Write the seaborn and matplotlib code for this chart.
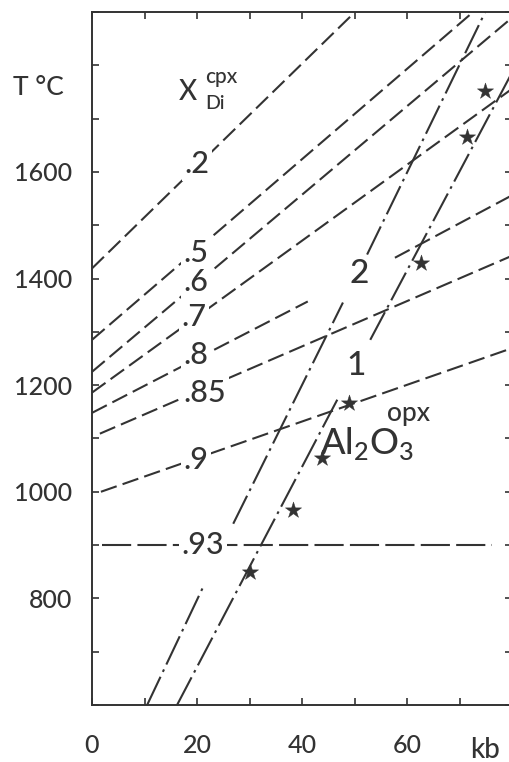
import matplotlib
matplotlib.use('Agg')
import numpy as np
import pandas as pd
import seaborn as sns
import matplotlib.pyplot as plt

# X_Di(cpx) isopleths, one segment per row (P in kb, T in degC)
cpx_names = ['.2', '.5', '.6', '.7', '.8', '.8', '.85', '.9', '.93']
cpx_P0 = [0, 0, 0, 0, 0, 57.7, 1.5, 1.7, 2.0]
cpx_T0 = [1419, 1285, 1225, 1186, 1148, 1439, 1109, 1000, 900]
cpx_P1 = [50.1, 72.6, 79.6, 79.6, 41.1, 79.6, 79.6, 79.6, 76.2]
cpx_T1 = [1900, 1900, 1886, 1753, 1357, 1554, 1441, 1268, 900]

# Al2O3 opx isopleths (1 and 2 wt%), segments
opx_names = ['2', '2', '2', '1', '1']
opx_P0 = [10.5, 26.9, 52.4, 16.2, 53.0]
opx_T0 = [600, 940, 1445, 600, 1285]
opx_P1 = [21.1, 47.8, 74.9, 47.0, 79.6]
opx_T1 = [820, 1355, 1900, 1178, 1779]

# experimental points (stars)
star_P = [30.1, 38.3, 43.8, 49.0, 62.7, 71.4, 74.9]
star_T = [850, 966, 1064, 1167, 1430, 1665, 1751]

# label positions for the isopleths
lab_text = ['.2', '.5', '.6', '.7', '.8', '.85', '.9', '.93']
lab_P = [20.0, 19.8, 19.8, 19.4, 19.8, 21.5, 19.8, 21.1]
lab_T = [1614, 1447, 1394, 1327, 1257, 1186, 1060, 900]

xticks = list(range(0, 81, 10))
xticklabels = ['0', '', '20', '', '40', '', '60', '', '']
yticks = list(range(600, 1901, 100))
yticklabels = ['', '', '800', '', '1000', '', '1200', '', '1400', '', '1600', '', '', '']

ink = '#333333'

rows = []
for i in range(len(cpx_names)):
    kind = 'cpx93' if cpx_names[i] == '.93' else 'cpx'
    rows.append(('c%d' % i, kind, cpx_P0[i], cpx_T0[i]))
    rows.append(('c%d' % i, kind, cpx_P1[i], cpx_T1[i]))
for i in range(len(opx_names)):
    rows.append(('o%d' % i, 'opx', opx_P0[i], opx_T0[i]))
    rows.append(('o%d' % i, 'opx', opx_P1[i], opx_T1[i]))
df = pd.DataFrame(rows, columns=['seg', 'kind', 'P', 'T'])

sns.set_theme(style='ticks')
plt.rcParams['font.family'] = ['Lato', 'DejaVu Sans']
plt.rcParams['font.weight'] = 'medium'
plt.rcParams['mathtext.fontset'] = 'custom'
plt.rcParams['mathtext.rm'] = 'Lato:medium'

fig = plt.figure(figsize=(5.1, 7.62), dpi=100)
ax = fig.add_axes([92/510, 57/762, 420/510, 693/762])

dash_map = {'cpx': (8, 3), 'cpx93': (14, 3), 'opx': (15, 2.6, 1.3, 2.6)}
sns.lineplot(data=df, x='P', y='T', units='seg', estimator=None, sort=False,
             style='kind', dashes=dash_map, color=ink, linewidth=1.5,
             legend=False, ax=ax)
sns.scatterplot(x=star_P, y=star_T, marker='*', s=150, color=ink,
                edgecolor=ink, linewidth=0.3, zorder=5, ax=ax)

for t, p, T in zip(lab_text, lab_P, lab_T):
    ax.text(p, T, t, fontsize=22, color=ink, ha='center', va='center', zorder=6,
            bbox=dict(facecolor='white', edgecolor='none', pad=2))

ax.text(50.9, 1409, '2', fontsize=24, color=ink, ha='center', va='center')
ax.text(50.3, 1235, '1', fontsize=24, color=ink, ha='center', va='center')
ax.text(52.4, 1090, r'Al$_\mathrm{2}$O$_\mathrm{3}$', fontsize=26, color=ink,
        ha='center', va='center')
ax.text(60.2, 1146, 'opx', fontsize=19, color=ink, ha='center', va='center')

ax.text(18.3, 1749, 'X', fontsize=20, color=ink, ha='center', va='center')
ax.text(21.5, 1779, 'cpx', fontsize=15, color=ink, ha='left', va='center')
ax.text(21.5, 1729, 'Di', fontsize=14, color=ink, ha='left', va='center')
ax.text(-15.0, 1759, 'T °C', fontsize=19, color=ink, ha='left', va='center',
        clip_on=False)
ax.text(74.9, 500, 'kb', fontsize=20, color=ink, ha='center', va='baseline',
        clip_on=False)

ax.set_xlim(0, 80)
ax.set_ylim(600, 1900)
ax.set_xticks(xticks)
ax.set_xticklabels(xticklabels)
ax.set_yticks(yticks)
ax.set_yticklabels(yticklabels)
ax.set_xlabel('')
ax.set_ylabel('')
ax.tick_params(axis='both', direction='in', length=5, width=1.2, color=ink,
               labelcolor=ink, labelsize=18, top=True, right=True)
ax.tick_params(axis='x', pad=21)
ax.tick_params(axis='y', pad=14)
for s in ax.spines.values():
    s.set_linewidth(1.4)
    s.set_color(ink)

fig.savefig('out.png', dpi=100)
